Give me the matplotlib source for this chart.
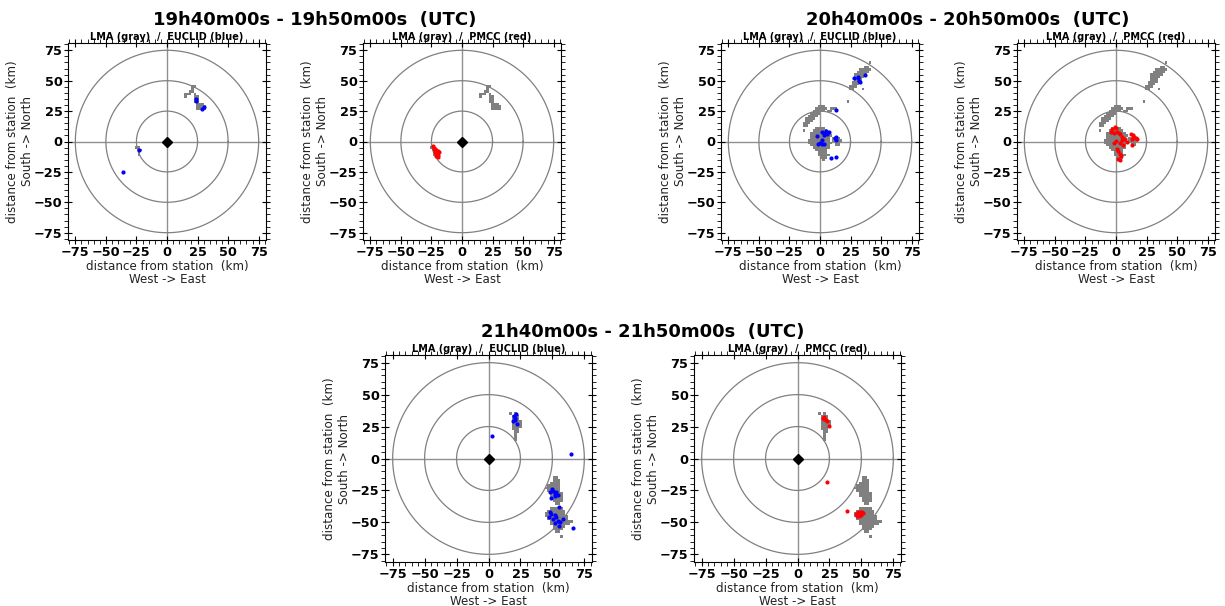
import numpy as np
import matplotlib
matplotlib.use("Agg")
import matplotlib.pyplot as plt
from matplotlib.colors import ListedColormap

# time windows
titles = ["19h40m00s - 19h50m00s  (UTC)",
          "20h40m00s - 20h50m00s  (UTC)",
          "21h40m00s - 21h50m00s  (UTC)"]

# LMA sources on a 2 km grid: rows of (y, x_first_cell, x_last_cell)
lma_1940 = [(45, 21, 23), (43, 21, 21), (41, 19, 21), (39, 15, 19), (39, 23, 23),
            (37, 15, 15), (37, 23, 25), (35, 23, 25), (33, 23, 25), (31, 25, 29),
            (29, 25, 31), (27, 25, 31),
            (-5, -25, -23), (-7, -23, -21), (-9, -23, -23), (-11, -23, -23)]

lma_2040 = [(65, 41, 41), (61, 37, 39), (59, 33, 41), (57, 31, 39), (55, 29, 37),
            (53, 29, 35), (51, 29, 33), (49, 27, 33), (47, 27, 31), (45, 25, 29),
            (43, 25, 27), (43, 35, 35), (33, 23, 23),
            (29, -1, 3), (27, -3, 5), (27, 9, 13), (25, -5, 3), (25, 7, 9),
            (23, -7, -1), (21, -9, -3), (19, -11, -5), (17, -11, -7), (15, -13, -9),
            (13, -13, -11), (9, -13, -13),
            (11, -3, 3), (9, -5, 5), (7, -7, 7), (5, -7, 9), (3, -7, 7), (3, 11, 15),
            (1, -9, 7), (1, 11, 17), (-1, -9, 9), (-1, 13, 15), (-3, -7, 7),
            (-3, 13, 15), (-5, -5, 7), (-7, -3, 5), (-9, -1, 5), (-11, -1, 7),
            (-13, 1, 5), (-15, 3, 3)]

lma_2140 = [(35, 17, 17), (35, 21, 21), (33, 19, 23), (31, 19, 23), (29, 19, 25),
            (27, 19, 25), (25, 19, 25), (23, 19, 23), (21, 21, 23), (19, 21, 21),
            (17, 21, 21), (15, 21, 21),
            (-15, 51, 53), (-17, 51, 55), (-19, 49, 55), (-21, 47, 55), (-23, 45, 55),
            (-25, 47, 55), (-27, 49, 57), (-29, 49, 57), (-31, 51, 57), (-33, 51, 57),
            (-35, 53, 55),
            (-39, 49, 57), (-41, 47, 59), (-43, 45, 59), (-45, 45, 61), (-47, 47, 61),
            (-49, 49, 65), (-51, 49, 63), (-53, 51, 59), (-55, 51, 57), (-57, 53, 55),
            (-61, 57, 57)]

# EUCLID detections (blue)
euclid_1940_x = [24, 24, 29, 30, -23, -36]
euclid_1940_y = [35, 33, 27, 28, -7, -25]

euclid_2040_x = [28, 31, 32, 32.5, 36.5, 31, 1.4, 4, 5, 7, 6, 3, -2.7, 1.4, 3, -2,
                 13, 13.5, 12, 9, 13, 12.7, 0, 2]
euclid_2040_y = [52, 52, 50, 49, 55, 53, 8, 7, 9, 8, 6, 5, 4.6, -2, -2, -2,
                 4, 1.4, 3, -13.5, -13, 25.7, -1, 1]

euclid_2140_x = [20, 21.4, 20.7, 22.5, 19, 21, 2.6, 64.6,
                 48.3, 50.4, 51.7, 53, 49, 54, 50, 52,
                 47, 49, 50.4, 53, 54, 55.5, 51.7, 55, 58, 66, 48.3, 52, 56]
euclid_2140_y = [33, 34.6, 30, 27, 29, 32, 17.8, 3.6,
                 -26.6, -25.3, -27.9, -26.6, -31, -28.4, -24, -29,
                 -46, -43.4, -47.3, -46, -48.6, -52.5, -50.4, -38, -47.3, -54.3, -42, -44, -50]

# PMCC detections (red)
pmcc_1950_x = [-24, -23, -22, -21, -20, -22, -21, -20, -19, -21, -20, -23]
pmcc_1950_y = [-4, -5, -6, -7, -8, -9, -10, -11, -9, -12, -13, -6]

pmcc_2050_x = [-3, -1, 1, -2, 0, 3, 5, 2.7, 12, 14, 16, 17, 13, 15, 7.5, 9, -2,
               3.5, 6, 1, 2, 3, 4, 2, 3, 5, 13, 0, -4]
pmcc_2050_y = [10, 12, 8, 7, 11, 6, 4, 7, 6, 5, 3, 2, 2, 4, 2, 0, -1.4,
               -1.4, -2.7, -6, -8, -10, -12, -14, -15, 1.4, -3, 0.5, 8]

pmcc_2150_x = [20, 21, 22.5, 23, 24.5, 20.7, 22.7, 38.8,
               45.7, 47, 49, 50.4, 48.3, 49.4, 46.5, 51]
pmcc_2150_y = [32, 31, 30, 29, 25.6, 32.8, -18.3, -41.3,
               -43.4, -42, -41.6, -42, -45, -44, -44.7, -43]

panels = [
    (lma_1940, euclid_1940_x, euclid_1940_y, "blue", "LMA (gray)  /  EUCLID (blue)"),
    (lma_1940, pmcc_1950_x, pmcc_1950_y, "red", "LMA (gray)  /  PMCC (red)"),
    (lma_2040, euclid_2040_x, euclid_2040_y, "blue", "LMA (gray)  /  EUCLID (blue)"),
    (lma_2040, pmcc_2050_x, pmcc_2050_y, "red", "LMA (gray)  /  PMCC (red)"),
    (lma_2140, euclid_2140_x, euclid_2140_y, "blue", "LMA (gray)  /  EUCLID (blue)"),
    (lma_2140, pmcc_2150_x, pmcc_2150_y, "red", "LMA (gray)  /  PMCC (red)"),
]

W, H = 1225, 606
# axes boxes in pixels: left, top, width, height
boxes = [(68, 43, 198, 197), (363, 43, 198, 197), (721, 43, 198, 197),
         (1017, 43, 198, 197), (385, 355, 207, 207), (694, 355, 207, 207)]

fig = plt.figure(figsize=(W / 100, H / 100), dpi=100)

gray_cmap = ListedColormap(["#808080"])
lim = 81

for (lma, px, py, col, sub), (l, t, w, h) in zip(panels, boxes):
    ax = fig.add_axes([l / W, 1 - (t + h) / H, w / W, h / H])

    ax.axhline(0, color="#909090", lw=1, zorder=1)
    ax.axvline(0, color="#909090", lw=1, zorder=1)
    th = np.linspace(0, 2 * np.pi, 300)
    for r in (25, 50, 75):
        ax.plot(r * np.cos(th), r * np.sin(th), color="#808080", lw=0.9, zorder=1)

    ax.plot(0, 0, marker="D", color="black", ms=5, zorder=2)

    grid = np.zeros((80, 80))
    for y, x0, x1 in lma:
        j = (y + 80) // 2
        for x in range(x0, x1 + 1, 2):
            grid[j, (x + 80) // 2] = 1
    ax.imshow(np.ma.masked_equal(grid, 0), cmap=gray_cmap, vmin=0, vmax=1,
              extent=(-80, 80, -80, 80), origin="lower", interpolation="nearest",
              aspect="auto", zorder=3)

    ax.scatter(px, py, s=9, color=col, linewidths=0, zorder=4)

    ax.set_xlim(-lim, lim)
    ax.set_ylim(-lim, lim)
    ticks = [-75, -50, -25, 0, 25, 50, 75]
    ax.set_xticks(ticks)
    ax.set_yticks(ticks)
    ax.set_xticks(np.arange(-80, 81, 5), minor=True)
    ax.set_yticks(np.arange(-80, 81, 5), minor=True)
    ax.tick_params(which="major", direction="inout", length=6, top=True, right=True,
                   labelsize=9.3, pad=1)
    ax.tick_params(which="minor", direction="out", length=3, top=True, right=True)
    for lab in ax.get_xticklabels() + ax.get_yticklabels():
        lab.set_fontweight("bold")
    ax.set_xlabel("distance from station  (km)\nWest -> East", fontsize=8.6,
                  color="#222222", labelpad=1, linespacing=1.05)
    ax.set_ylabel("distance from station  (km)\nSouth -> North", fontsize=8.6,
                  color="#222222", labelpad=0, linespacing=1.15)
    ax.set_title(sub, fontsize=7, fontweight="bold", pad=2)

fig.text(315 / W, 1 - 20 / H, titles[0], ha="center", va="center",
         fontsize=13, fontweight="bold")
fig.text(968 / W, 1 - 20 / H, titles[1], ha="center", va="center",
         fontsize=13, fontweight="bold")
fig.text(643 / W, 1 - 332 / H, titles[2], ha="center", va="center",
         fontsize=13, fontweight="bold")

fig.savefig("out.png", dpi=100)
